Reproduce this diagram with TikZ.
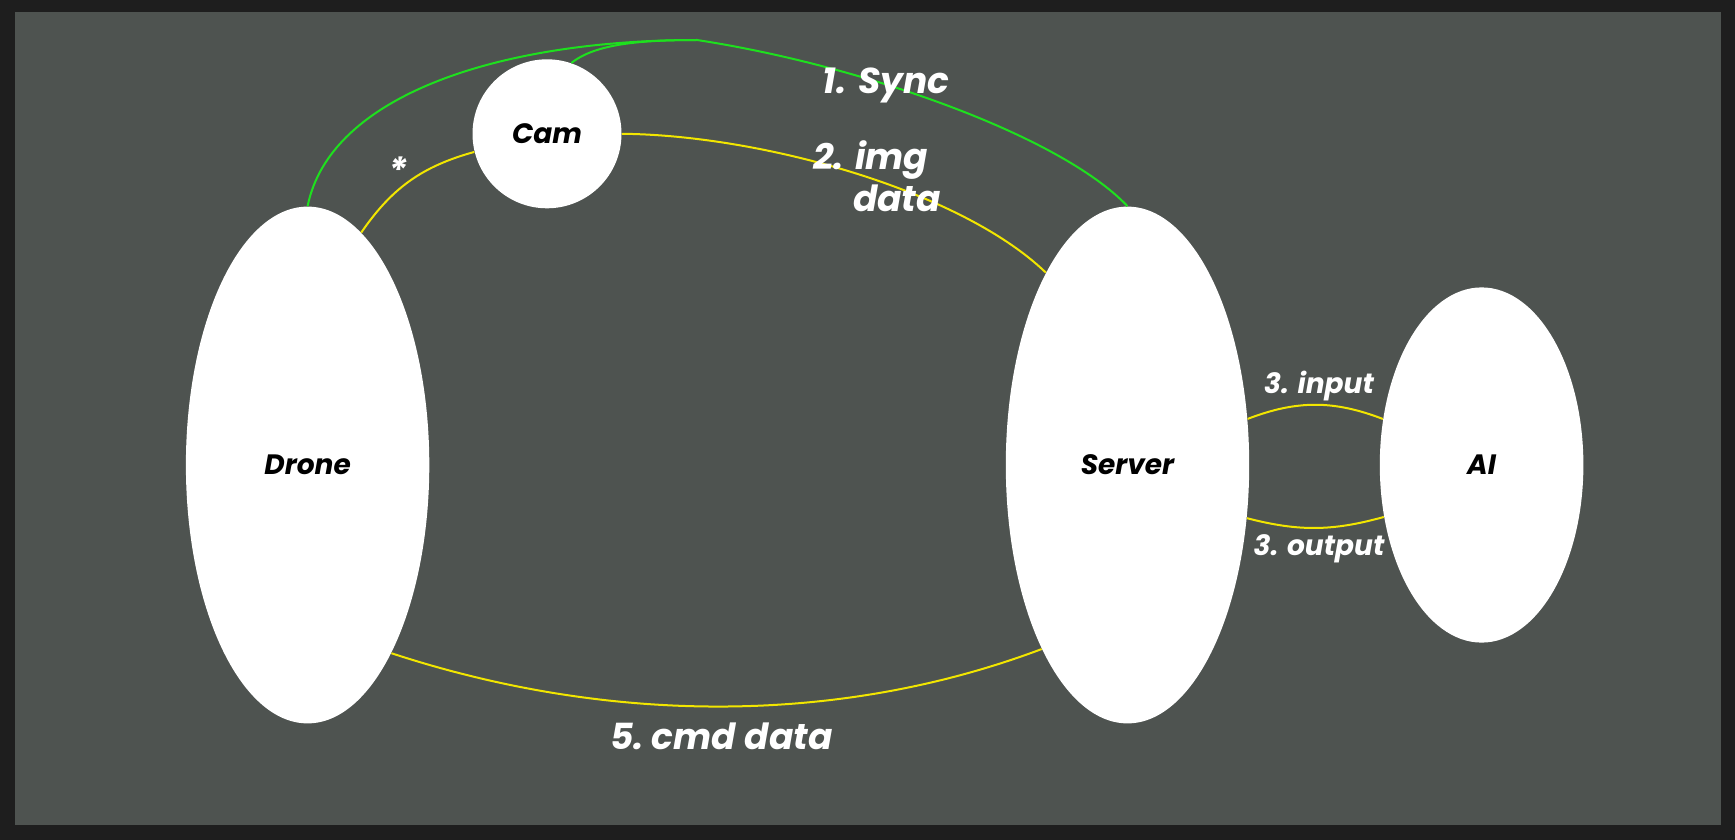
\documentclass[tikz,border=0pt]{standalone}
\usepackage{fontspec}
\setmainfont{Poppins}
\usetikzlibrary{shapes.geometric}
\definecolor{frame}{HTML}{1E1E1E}
\definecolor{canvas}{HTML}{4E5350}
\definecolor{syncgreen}{HTML}{1EE01E}
\definecolor{datayellow}{HTML}{F2E600}
\tikzset{
  blob/.style={ellipse, fill=white, draw=none, inner sep=0pt, text=black,
    font=\fontsize{14pt}{16pt}\selectfont\bfseries\itshape},
  biglabel/.style={text=white, inner sep=0pt, align=center,
    font=\fontsize{18pt}{21pt}\selectfont\bfseries\itshape},
  smalllabel/.style={text=white, inner sep=0pt,
    font=\fontsize{14pt}{16pt}\selectfont\bfseries\itshape},
  syncline/.style={draw=syncgreen, line width=1pt},
  dataline/.style={draw=datayellow, line width=1pt},
}
\begin{document}
\begin{tikzpicture}[x=0.5pt, y=-0.5pt]
\fill[frame] (0,0) rectangle (1735,840);
\fill[canvas] (15,12) rectangle (1721,825);
\useasboundingbox (0,0) rectangle (1735,840);

\node[blob, minimum width=121.7pt, minimum height=258.4pt] (drone) at (307.6,465) {Drone};
\node[blob, minimum width=121.7pt, minimum height=258.4pt] (server) at (1127.5,465) {Server};
\node[blob, minimum width=101.8pt, minimum height=177.6pt] (ai) at (1481.6,465) {AI};
\node[blob, circle, minimum size=74.5pt] (cam) at (547,133.8) {Cam};

\coordinate (peak) at (697,40);

% green sync lines
\draw[syncline] (drone.north) .. controls (330,95) and (500,40) .. (peak);
\draw[syncline] (cam.71) .. controls (595,44) and (640,40) .. (peak);
\draw[syncline] (peak) .. controls (860,65) and (1060,135) .. (server.north);

% yellow data lines
\draw[dataline] (drone.77) to[bend left=20] (cam.194);
\draw[dataline] (cam.0) .. controls (760,135) and (960,190) .. (server.113.5);
\draw[dataline] (server.21) to[bend left=21] (ai.155.2);
\draw[dataline] (server.-24.3) to[bend right=15] (ai.208.5);
\draw[dataline] (drone.-66.9) .. controls (610,725) and (840,725) .. (server.245.2);

% labels
\node[biglabel] (lsync) at (886,85) {1.\hspace{6pt}Sync};
\node[biglabel, anchor=north west, align=left] (limg) at (813,140) {2. img\\\hspace*{1.1em}data};
\node[biglabel] (lstar) at (398,170) {*};
\node[smalllabel] (lin) at (1319,386) {3. input};
\node[smalllabel] (lout) at (1319,549) {3. output};
\node[biglabel] (lcmd) at (721.5,736) {5.\hspace{4pt}cmd data};
\end{tikzpicture}
\end{document}
